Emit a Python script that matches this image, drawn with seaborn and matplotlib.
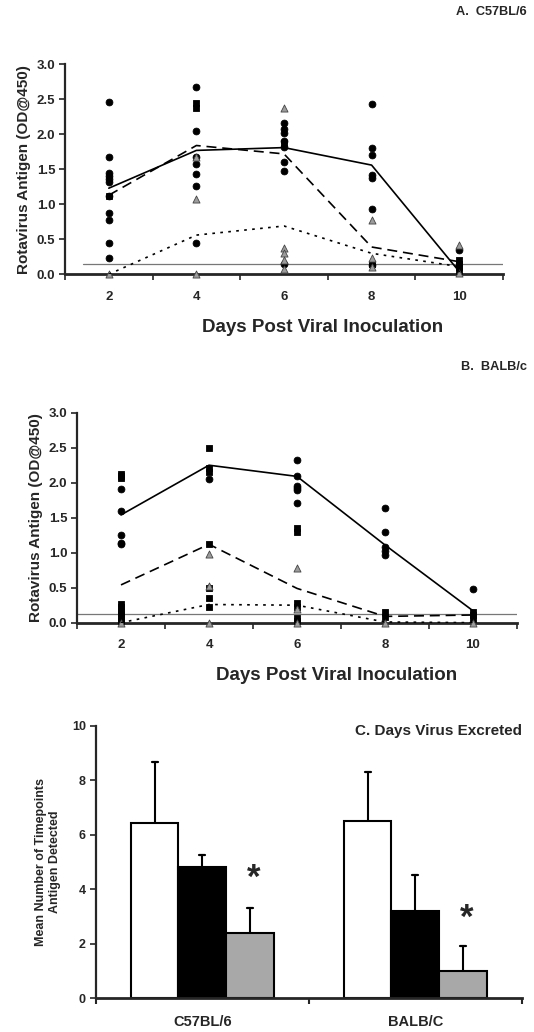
import numpy as np
import pandas as pd
import matplotlib
matplotlib.use("Agg")
import matplotlib.pyplot as plt
import seaborn as sns

sns.set_style("white")
plt.rcParams['font.family'] = ['Liberation Sans', 'DejaVu Sans']
plt.rcParams['font.weight'] = 'bold'

# ---------------- data ----------------
days = [2, 4, 6, 8, 10]
groups = ["circle", "square", "triangle"]

# Panel A (C57BL/6) individual points
a_circle = {2: [2.46, 1.68, 1.44, 1.40, 1.36, 1.32, 1.12, 0.88, 0.78, 0.45, 0.23],
            4: [2.68, 2.05, 1.68, 1.58, 1.43, 1.26, 0.45],
            6: [2.16, 2.07, 2.02, 1.90, 1.82, 1.61, 1.48, 0.15],
            8: [2.43, 1.81, 1.70, 1.42, 1.38, 0.93, 0.13],
            10: [0.34]}
a_square = {2: [1.12], 4: [2.44, 2.38], 6: [1.88], 8: [0.15],
            10: [0.20, 0.15, 0.10, 0.05]}
a_triangle = {2: [0.0], 4: [1.67, 1.07, 0.0], 6: [2.37, 0.38, 0.30, 0.20, 0.08],
              8: [0.77, 0.23, 0.11], 10: [0.42, 0.02]}
a_mean_solid = [1.23, 1.77, 1.81, 1.56, 0.04]
a_mean_dashed = [1.13, 1.84, 1.72, 0.39, 0.18]
a_mean_dotted = [0.0, 0.56, 0.69, 0.30, 0.11]
a_cutoff = 0.15

# Panel B (BALB/c) individual points
b_circle = {2: [1.91, 1.59, 1.26, 1.14, 1.12],
            4: [2.05],
            6: [2.32, 2.10, 1.96, 1.92, 1.89, 1.71],
            8: [1.64, 1.30, 1.08, 1.02, 0.97],
            10: [0.48]}
b_square = {2: [2.13, 2.10, 2.07, 0.27, 0.22, 0.17, 0.12, 0.07, 0.02],
            4: [2.50, 2.21, 2.16, 1.12, 0.50, 0.35, 0.23],
            6: [1.36, 1.30, 0.28, 0.22, 0.07, 0.02],
            8: [0.15, 0.08],
            10: [0.16, 0.11, 0.06]}
b_triangle = {2: [0.0], 4: [0.98, 0.52, 0.0], 6: [0.78, 0.20, 0.0], 8: [0.0], 10: [0.0]}
b_mean_solid = [1.54, 2.25, 2.09, 1.11, 0.17]
b_mean_dashed = [0.54, 1.12, 0.49, 0.09, 0.11]
b_mean_dotted = [0.0, 0.26, 0.25, 0.01, 0.0]
b_cutoff = 0.13

# Panel C bars
strains = ["C57BL/6", "BALB/C"]
bar_groups = ["g1", "g2", "g3"]
c57_means = [6.45, 4.83, 2.41]
c57_err = [2.22, 0.44, 0.91]
balb_means = [6.50, 3.21, 1.02]
balb_err = [1.81, 1.32, 0.89]
star_y = [4.40, 2.95]

# ---------------- figure ----------------
W, H = 534, 1032
fig = plt.figure(figsize=(W / 100, H / 100), dpi=100)

def px_axes(left, right, top, bottom):
    return fig.add_axes([left / W, 1 - bottom / H, (right - left) / W, (bottom - top) / H])

ax_a = px_axes(65, 503, 64.3, 274.3)
ax_b = px_axes(77, 517, 412.7, 622.7)
ax_c = px_axes(95.7, 521.7, 726, 998.3)

marker_map = {"circle": "o", "square": "s", "triangle": "^"}
face_map = {"circle": "black", "square": "black", "triangle": "#9c9c9c"}


def points_df(circ, sq, tri):
    rows = []
    for g, d in zip(groups, [circ, sq, tri]):
        for day, vals in d.items():
            for v in vals:
                rows.append({"day": day, "od": v, "group": g})
    return pd.DataFrame(rows)


def draw_time_panel(ax, circ, sq, tri, m_solid, m_dashed, m_dotted, cutoff, cut_start):
    df = points_df(circ, sq, tri)
    for g, s, z in [("circle", 24, 3), ("square", 22, 3), ("triangle", 26, 4)]:
        sub = df[df.group == g]
        sns.scatterplot(data=sub, x="day", y="od", ax=ax, marker=marker_map[g],
                        color=face_map[g], s=s,
                        edgecolor="#444444" if g == "triangle" else "black",
                        linewidth=0.6, zorder=z, legend=False)
    sns.lineplot(x=days, y=m_solid, ax=ax, color="black", lw=1.2, zorder=5)
    sns.lineplot(x=days, y=m_dashed, ax=ax, color="black", lw=1.2,
                 linestyle=(0, (6, 3.5)), zorder=5)
    sns.lineplot(x=days, y=m_dotted, ax=ax, color="black", lw=1.2,
                 linestyle=(0, (1.6, 3.2)), zorder=5)
    ax.plot([cut_start, 11], [cutoff, cutoff], color="#777777", lw=0.9, zorder=2)
    ax.set_xlim(1, 11)
    ax.set_ylim(0, 3.0)
    ax.set_yticks(np.arange(0, 3.01, 0.5))
    ax.set_yticklabels([f"{v:.1f}" for v in np.arange(0, 3.01, 0.5)])
    ax.set_xticks(days)
    ax.set_xticks([1, 3, 5, 7, 9, 11], minor=True)
    ax.tick_params(axis="x", which="major", length=0, pad=12, labelsize=9.5)
    ax.tick_params(axis="x", which="minor", length=4, width=1.2, direction="out",
                   bottom=True)
    ax.tick_params(axis="y", which="major", length=4, width=1.2, direction="out",
                   left=True, labelsize=9.5, pad=3)
    for lab in ax.get_xticklabels() + ax.get_yticklabels():
        lab.set_fontweight("bold")
    sns.despine(ax=ax)
    ax.spines["left"].set_linewidth(1.6)
    ax.spines["bottom"].set_linewidth(2.0)
    ax.set_xlabel("")
    ax.set_ylabel("Rotavirus Antigen (OD@450)", fontsize=11, fontweight="bold",
                  labelpad=4)
    for c in ax.collections:
        c.set_clip_on(False)


draw_time_panel(ax_a, a_circle, a_square, a_triangle, a_mean_solid, a_mean_dashed,
                a_mean_dotted, a_cutoff, 1.4)
draw_time_panel(ax_b, b_circle, b_square, b_triangle, b_mean_solid, b_mean_dashed,
                b_mean_dotted, b_cutoff, 1.0)

fig.text(527 / W, 1 - 12 / H, "A.  C57BL/6", ha="right", va="center",
         fontsize=9.2, fontweight="bold")
fig.text(527 / W, 1 - 367 / H, "B.  BALB/c", ha="right", va="center",
         fontsize=9.2, fontweight="bold")
fig.text(323 / W, 1 - 327 / H, "Days Post Viral Inoculation", ha="center",
         va="center", fontsize=13.5, fontweight="bold")
fig.text(337 / W, 1 - 675 / H, "Days Post Viral Inoculation", ha="center",
         va="center", fontsize=13.5, fontweight="bold")

# ---------------- panel C ----------------
rows = []
for st, means in zip(strains, [c57_means, balb_means]):
    for g, m in zip(bar_groups, means):
        rows.append({"strain": st, "group": g, "mean": m})
cdf = pd.DataFrame(rows)
sns.barplot(data=cdf, x="strain", y="mean", hue="group", ax=ax_c,
            palette=["white", "black", "#a8a8a8"], edgecolor="black",
            linewidth=1.5, width=0.67, errorbar=None, legend=False,
            saturation=1, zorder=2)
errs = {"C57BL/6": c57_err, "BALB/C": balb_err}
for gi, cont in enumerate(ax_c.containers):
    for si, bar in enumerate(cont):
        xc = bar.get_x() + bar.get_width() / 2
        h = bar.get_height()
        e = errs[strains[si]][gi]
        ax_c.plot([xc, xc], [h, h + e], color="black", lw=1.5, zorder=1)
        ax_c.plot([xc - 0.014, xc + 0.014], [h + e, h + e], color="black", lw=1.6,
                  zorder=1)
# asterisks above grey bars
for si, cont_bar in enumerate(ax_c.containers[2]):
    xc = cont_bar.get_x() + cont_bar.get_width() / 2
    ax_c.text(xc + 0.02, star_y[si], "*", ha="center", va="center", fontsize=25,
              fontweight="bold")

ax_c.set_xlim(-0.5, 1.5)
ax_c.set_ylim(0, 10)
ax_c.set_yticks([0, 2, 4, 6, 8, 10])
ax_c.set_xticks([-0.5, 0.5, 1.5], minor=True)
ax_c.tick_params(axis="x", which="major", length=0, pad=12, labelsize=10.5)
ax_c.tick_params(axis="x", which="minor", length=4, width=1.5, direction="out",
                 bottom=True)
ax_c.tick_params(axis="y", length=4, width=1.2, direction="out", left=True,
                 labelsize=9, pad=3)
for lab in ax_c.get_xticklabels() + ax_c.get_yticklabels():
    lab.set_fontweight("bold")
sns.despine(ax=ax_c)
ax_c.spines["left"].set_linewidth(1.6)
ax_c.spines["bottom"].set_linewidth(2.0)
ax_c.set_xlabel("")
ax_c.set_ylabel("Mean Number of Timepoints\nAntigen Detected", fontsize=9,
                fontweight="bold", labelpad=8, linespacing=1.2)
ax_c.text(1.0, 0.98, "C. Days Virus Excreted", transform=ax_c.transAxes,
          ha="right", va="center", fontsize=11, fontweight="bold")

fig.savefig("out.png", dpi=100)
